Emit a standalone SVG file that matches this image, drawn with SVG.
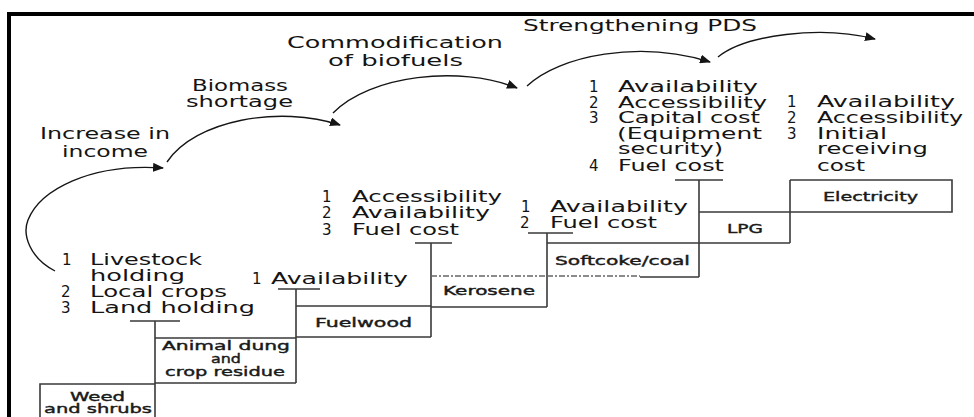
<svg xmlns="http://www.w3.org/2000/svg" width="974" height="417" viewBox="0 0 974 417">
<style>
.t{font-family:"DejaVu Sans","Liberation Sans",sans-serif;font-size:15px;fill:#141414}
.b{font-family:"DejaVu Sans","Liberation Sans",sans-serif;font-size:12.5px;fill:#1a1a1a;stroke:#1a1a1a;stroke-width:0.4}
.ln{stroke:#3a3a3a;stroke-width:1.6;fill:none}
.dl{stroke:#666;stroke-width:1.3;fill:none;stroke-dasharray:6 2 2 2}
.arc{stroke:#151515;stroke-width:1.4;fill:none;marker-end:url(#ah)}
</style>
<defs>
<marker id="ah" markerUnits="userSpaceOnUse" markerWidth="12" markerHeight="9" refX="10" refY="4.5" orient="auto">
<path d="M0,0 L11,4.5 L0,9 z" fill="#151515"/>
</marker>
</defs>
<rect x="0" y="0" width="974" height="417" fill="#ffffff"/>
<g id="frame"><path d="M9,417 V14 H974" stroke="#000" stroke-width="4" fill="none"/></g>

<g id="connectors">
<path class="arc" d="M55,271 C30,258 22,235 28,220 C40,190 90,163 163,168"/>
<path class="arc" d="M167,162 C195,120 280,105 340,125"/>
<path class="arc" d="M333,113 C370,75 460,65 517,88"/>
<path class="arc" d="M527,86 C560,55 640,40 710,62"/>
<path class="arc" d="M718,57 C745,35 820,25 875,39"/>
</g>

<g id="transitions">
<text class="t" x="40" y="139" textLength="130" lengthAdjust="spacingAndGlyphs">Increase in</text>
<text class="t" x="62" y="157" textLength="86" lengthAdjust="spacingAndGlyphs">income</text>
<text class="t" x="192" y="91" textLength="96" lengthAdjust="spacingAndGlyphs">Biomass</text>
<text class="t" x="186" y="107" textLength="107" lengthAdjust="spacingAndGlyphs">shortage</text>
<text class="t" x="287" y="48" textLength="216" lengthAdjust="spacingAndGlyphs">Commodification</text>
<text class="t" x="328" y="66" textLength="135" lengthAdjust="spacingAndGlyphs">of biofuels</text>
<text class="t" x="523" y="31" textLength="234" lengthAdjust="spacingAndGlyphs">Strengthening PDS</text>
</g>

<g id="weed">
<path class="ln" d="M40,417 V384 H155"/>
<text class="b" x="70" y="401" textLength="55" lengthAdjust="spacingAndGlyphs">Weed</text>
<text class="b" x="44" y="413" textLength="108" lengthAdjust="spacingAndGlyphs">and shrubs</text>
</g>

<g id="dung">
<path class="ln" d="M155,417 V321 M130,321 H180 M155,338 H296 M155,383 H296 M296,289 V383"/>
<text class="b" x="162" y="350" textLength="128" lengthAdjust="spacingAndGlyphs">Animal dung</text>
<text class="b" x="226" y="363" text-anchor="middle" textLength="30" lengthAdjust="spacingAndGlyphs">and</text>
<text class="b" x="165" y="376" textLength="120" lengthAdjust="spacingAndGlyphs">crop residue</text>
<text class="t" x="62" y="265">1</text>
<text class="t" x="90" y="265" textLength="112" lengthAdjust="spacingAndGlyphs">Livestock</text>
<text class="t" x="90" y="281" textLength="95" lengthAdjust="spacingAndGlyphs">holding</text>
<text class="t" x="61" y="297">2</text>
<text class="t" x="90" y="297" textLength="137" lengthAdjust="spacingAndGlyphs">Local crops</text>
<text class="t" x="61" y="313">3</text>
<text class="t" x="90" y="313" textLength="165" lengthAdjust="spacingAndGlyphs">Land holding</text>
</g>

<g id="fuelwood">
<path class="ln" d="M296,306 H431 M296,337 H431 M431,243 V337 M278,289 H320"/>
<text class="b" x="315" y="327" textLength="97" lengthAdjust="spacingAndGlyphs">Fuelwood</text>
<text class="t" x="252" y="284">1</text>
<text class="t" x="271" y="284" textLength="137" lengthAdjust="spacingAndGlyphs">Availability</text>
</g>

<g id="kerosene">
<path class="dl" d="M431,276 H547"/>
<path class="ln" d="M431,307 H547 M547,233 V307 M415,243 H452"/>
<text class="b" x="443" y="295" textLength="92" lengthAdjust="spacingAndGlyphs">Kerosene</text>
<text class="t" x="322" y="202">1</text>
<text class="t" x="352" y="202" textLength="150" lengthAdjust="spacingAndGlyphs">Accessibility</text>
<text class="t" x="322" y="218">2</text>
<text class="t" x="352" y="218" textLength="138" lengthAdjust="spacingAndGlyphs">Availability</text>
<text class="t" x="322" y="235">3</text>
<text class="t" x="352" y="235" textLength="107" lengthAdjust="spacingAndGlyphs">Fuel cost</text>
</g>

<g id="softcoke">
<path class="dl" d="M547,276 H640"/>
<path class="ln" d="M640,277 H699 M547,243 H699 M699,180 V277 M528,233 H573"/>
<text class="b" x="555" y="265" textLength="135" lengthAdjust="spacingAndGlyphs">Softcoke/coal</text>
<text class="t" x="521" y="212">1</text>
<text class="t" x="550" y="212" textLength="138" lengthAdjust="spacingAndGlyphs">Availability</text>
<text class="t" x="520" y="228">2</text>
<text class="t" x="550" y="228" textLength="107" lengthAdjust="spacingAndGlyphs">Fuel cost</text>
</g>

<g id="lpg">
<path class="ln" d="M699,212 H790 M699,243 H790 M790,180 V243 M675,180 H723"/>
<text class="b" x="727" y="233" textLength="36" lengthAdjust="spacingAndGlyphs">LPG</text>
<text class="t" x="589" y="92">1</text>
<text class="t" x="618" y="92" textLength="140" lengthAdjust="spacingAndGlyphs">Availability</text>
<text class="t" x="589" y="107.5">2</text>
<text class="t" x="618" y="107.5" textLength="149" lengthAdjust="spacingAndGlyphs">Accessibility</text>
<text class="t" x="589" y="123">3</text>
<text class="t" x="618" y="123" textLength="142" lengthAdjust="spacingAndGlyphs">Capital cost</text>
<text class="t" x="617" y="138.5" textLength="145" lengthAdjust="spacingAndGlyphs">(Equipment</text>
<text class="t" x="618" y="154" textLength="105" lengthAdjust="spacingAndGlyphs">security)</text>
<text class="t" x="589" y="171">4</text>
<text class="t" x="618" y="171" textLength="106" lengthAdjust="spacingAndGlyphs">Fuel cost</text>
</g>

<g id="electricity">
<path class="ln" d="M790,180 H952 V212 H790"/>
<text class="b" x="823" y="201" textLength="95" lengthAdjust="spacingAndGlyphs">Electricity</text>
<text class="t" x="787" y="106.5">1</text>
<text class="t" x="817" y="106.5" textLength="138" lengthAdjust="spacingAndGlyphs">Availability</text>
<text class="t" x="787" y="123">2</text>
<text class="t" x="817" y="123" textLength="146" lengthAdjust="spacingAndGlyphs">Accessibility</text>
<text class="t" x="787" y="138.5">3</text>
<text class="t" x="817" y="138.5" textLength="70" lengthAdjust="spacingAndGlyphs">Initial</text>
<text class="t" x="817" y="154" textLength="111" lengthAdjust="spacingAndGlyphs">receiving</text>
<text class="t" x="817" y="171" textLength="48" lengthAdjust="spacingAndGlyphs">cost</text>
</g>
</svg>
